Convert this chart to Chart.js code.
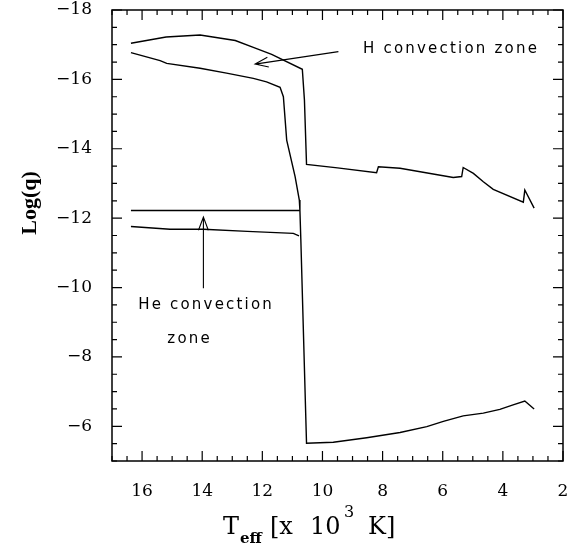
<!DOCTYPE html>
<html lang="en">
<head>
  <meta charset="UTF-8">
  <title>Convection zones</title>
  <script src="https://cdn.jsdelivr.net/npm/chart.js"></script>
  <style>
    html, body { margin: 0; padding: 0; background: #fff; }
    #wrap { width: 572px; height: 546px; }
  </style>
</head>
<body>
  <div id="wrap"><canvas id="myChart"></canvas></div>

  <script>
    // data: Teff in 10^3 K, Log(q)
    const hTopT = [16.37, 15.2, 14.07, 12.9, 12.3, 11.69, 10.67, 10.6, 10.53, 9.5, 8.2, 8.14, 7.42, 5.65, 5.37, 5.32, 4.98, 4.65, 4.32, 3.32, 3.27, 2.96];
    const hTopQ = [-17.04, -17.22, -17.28, -17.12, -16.92, -16.72, -16.29, -15.41, -13.55, -13.45, -13.31, -13.48, -13.44, -13.17, -13.2, -13.46, -13.29, -13.05, -12.83, -12.46, -12.81, -12.29];

    const mainT = [16.37, 15.4, 15.18, 14.07, 13.19, 12.3, 11.86, 11.41, 11.3, 11.19, 10.91, 10.77, 10.75, 10.72, 10.53, 9.64, 8.53, 7.42, 6.53, 5.98, 5.32, 4.65, 4.1, 3.66, 3.27, 2.96];
    const mainQ = [-16.77, -16.54, -16.46, -16.32, -16.18, -16.03, -15.93, -15.77, -15.5, -14.25, -13.2, -12.52, -12.22, -11.4, -5.51, -5.54, -5.67, -5.82, -5.99, -6.14, -6.3, -6.38, -6.49, -6.62, -6.73, -6.5];

    const heTopT = [16.37, 10.75];
    const heTopQ = [-12.22, -12.22];

    const heBotT = [16.37, 15.07, 13.96, 12.5, 10.97, 10.78];
    const heBotQ = [-11.76, -11.68, -11.68, -11.62, -11.56, -11.49];

    const xTicks = [16, 14, 12, 10, 8, 6, 4, 2];
    const yTicks = [-18, -16, -14, -12, -10, -8, -6];

    // arrows: [fromT, fromQ, toT, toQ]
    const arrows = [
      [9.47, -16.8, 12.24, -16.44],
      [13.96, -9.98, 13.96, -12.03]
    ];
    // notes: [text, T at left edge, Log(q) at middle]
    const notes = [
      ['H convection zone', 8.65, -16.88],
      ['He convection', 16.13, -9.5],
      ['zone', 15.16, -8.52]
    ];

    const pts = (xs, ys) => xs.map((x, i) => ({ x: x, y: ys[i] }));
    const line = data => ({
      data: data,
      showLine: true,
      borderColor: '#000',
      borderWidth: 1.4,
      pointRadius: 0,
      fill: false,
      tension: 0
    });

    const extras = {
      id: 'extras',
      afterDraw(chart) {
        const ctx = chart.ctx;
        const a = chart.chartArea;
        const sx = chart.scales.x, sy = chart.scales.y;
        ctx.save();
        ctx.strokeStyle = '#000';
        ctx.fillStyle = '#000';

        // frame
        ctx.lineWidth = 1.5;
        ctx.strokeRect(a.left, a.top, a.right - a.left, a.bottom - a.top);

        // inward ticks on all four sides
        ctx.lineWidth = 1.2;
        ctx.beginPath();
        for (let v = 2; v <= 17.001; v += 0.5) {
          const px = sx.getPixelForValue(v);
          const len = (Math.abs(v % 2) < 1e-6) ? 10 : 5;
          ctx.moveTo(px, a.bottom); ctx.lineTo(px, a.bottom - len);
          ctx.moveTo(px, a.top); ctx.lineTo(px, a.top + len);
        }
        for (let v = -18; v <= -4.999; v += 0.5) {
          const py = sy.getPixelForValue(v);
          const len = (Math.abs(v % 2) < 1e-6) ? 10 : 5;
          ctx.moveTo(a.left, py); ctx.lineTo(a.left + len, py);
          ctx.moveTo(a.right, py); ctx.lineTo(a.right - len, py);
        }
        ctx.stroke();

        // arrows
        ctx.lineWidth = 1.1;
        arrows.forEach(r => {
          const x0 = sx.getPixelForValue(r[0]), y0 = sy.getPixelForValue(r[1]);
          const x1 = sx.getPixelForValue(r[2]), y1 = sy.getPixelForValue(r[3]);
          const ang = Math.atan2(y1 - y0, x1 - x0);
          ctx.beginPath();
          ctx.moveTo(x0, y0); ctx.lineTo(x1, y1);
          ctx.moveTo(x1 - 14 * Math.cos(ang - 0.36), y1 - 14 * Math.sin(ang - 0.36));
          ctx.lineTo(x1, y1);
          ctx.lineTo(x1 - 14 * Math.cos(ang + 0.36), y1 - 14 * Math.sin(ang + 0.36));
          ctx.stroke();
        });

        // notes
        ctx.font = '15px "DejaVu Sans"';
        ctx.letterSpacing = '2.2px';
        ctx.textBaseline = 'middle';
        ctx.textAlign = 'left';
        notes.forEach(n => {
          ctx.fillText(n[0], sx.getPixelForValue(n[1]), sy.getPixelForValue(n[2]));
        });
        ctx.letterSpacing = '0px';

        // x title with sub/superscript
        ctx.textBaseline = 'alphabetic';
        const base = 534;
        const parts = [
          ['T', '24px "DejaVu Serif"', 223, 0],
          ['eff', 'bold 15px "DejaVu Serif"', 240, 9],
          ['[x', '24px "DejaVu Serif"', 270, 0],
          ['10', '24px "DejaVu Serif"', 310, 0],
          ['3', '16px "DejaVu Serif"', 344, -17],
          ['K]', '24px "DejaVu Serif"', 368, 0]
        ];
        parts.forEach(p => {
          ctx.font = p[1];
          ctx.fillText(p[0], p[2], base + p[3]);
        });

        // y title
        ctx.translate(30, 203);
        ctx.rotate(-Math.PI / 2);
        ctx.font = 'bold 22px "Liberation Serif"';
        ctx.textAlign = 'center';
        ctx.textBaseline = 'middle';
        ctx.fillText('Log(q)', 0, 0);
        ctx.restore();
      }
    };

    const ctx = document.getElementById('myChart').getContext('2d');
    new Chart(ctx, {
      type: 'scatter',
      data: {
        datasets: [
          line(pts(hTopT, hTopQ)),
          line(pts(mainT, mainQ)),
          line(pts(heTopT, heTopQ)),
          line(pts(heBotT, heBotQ))
        ]
      },
      options: {
        responsive: true,
        maintainAspectRatio: false,
        animation: false,
        layout: { padding: { top: 0, right: 0, left: 0, bottom: 0 } },
        plugins: {
          legend: { display: false },
          tooltip: { enabled: false }
        },
        scales: {
          x: {
            type: 'linear',
            min: 2,
            max: 17,
            reverse: true,
            grid: { display: false },
            border: { display: false },
            afterBuildTicks: s => { s.ticks = xTicks.map(v => ({ value: v })); },
            afterFit: s => { s.height = 85; s.paddingRight = 9; s.paddingLeft = 0; },
            ticks: {
              color: '#000',
              padding: 12,
              maxRotation: 0,
              font: { family: '"DejaVu Serif"', size: 17 },
              callback: v => String(v)
            }
          },
          y: {
            type: 'linear',
            min: -18,
            max: -5,
            reverse: true,
            grid: { display: false },
            border: { display: false },
            afterBuildTicks: s => { s.ticks = yTicks.map(v => ({ value: v })); },
            afterFit: s => { s.width = 112; s.paddingTop = 10; s.paddingBottom = 0; },
            ticks: {
              color: '#000',
              padding: 12,
              font: { family: '"DejaVu Serif"', size: 17 },
              callback: v => '\u2212' + Math.abs(v)
            }
          }
        }
      },
      plugins: [extras]
    });
  </script>
</body>
</html>
